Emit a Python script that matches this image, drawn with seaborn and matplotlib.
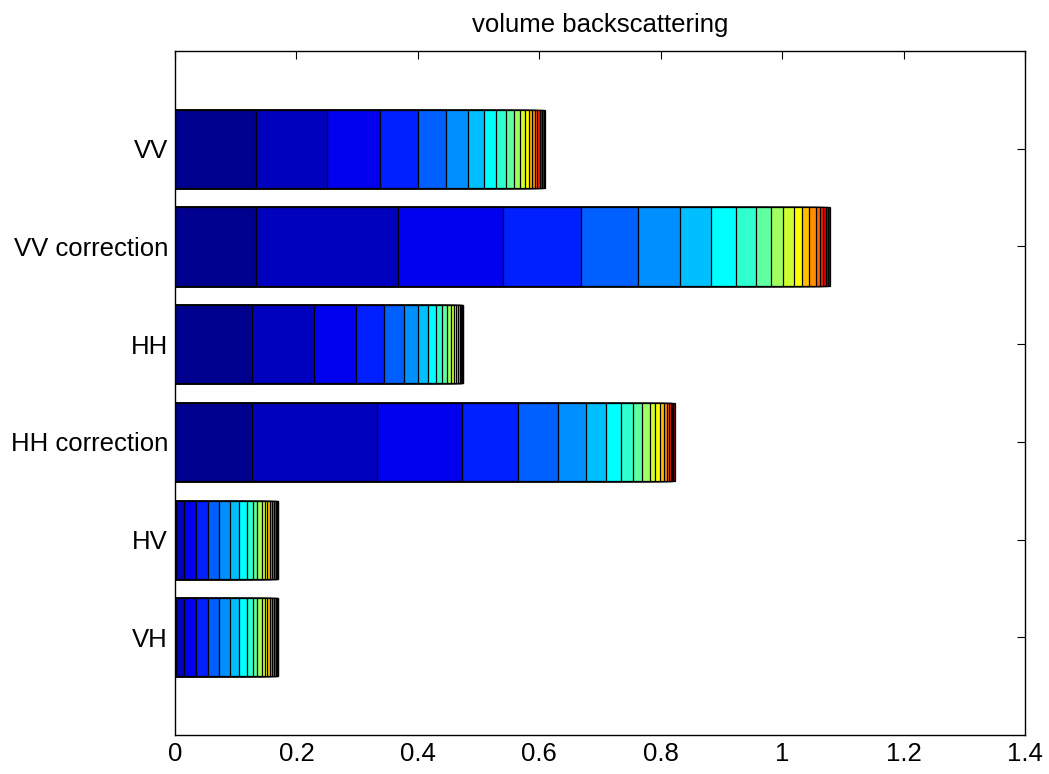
import numpy as np
import pandas as pd
import matplotlib
matplotlib.use('Agg')
import matplotlib.pyplot as plt
import seaborn as sns

# bar labels, top to bottom
labels = ['VV', 'VV correction', 'HH', 'HH correction', 'HV', 'VH']

# width of each stacked term (20 terms per bar)
vv = [0.134, 0.116, 0.088, 0.062, 0.047, 0.035, 0.027, 0.020, 0.016, 0.013,
      0.010, 0.008, 0.007, 0.005, 0.005, 0.004, 0.004, 0.003, 0.003, 0.002]
vv_corr = [0.134, 0.233, 0.174, 0.128, 0.093, 0.070, 0.051, 0.041, 0.033, 0.025,
           0.020, 0.017, 0.013, 0.012, 0.011, 0.007, 0.005, 0.005, 0.004, 0.003]
hh = [0.127, 0.102, 0.069, 0.046, 0.034, 0.023, 0.016, 0.013, 0.010, 0.008,
      0.006, 0.005, 0.004, 0.003, 0.003, 0.002, 0.001, 0.001, 0.001, 0.001]
hh_corr = [0.127, 0.205, 0.141, 0.092, 0.066, 0.046, 0.033, 0.025, 0.019, 0.016,
           0.012, 0.009, 0.008, 0.006, 0.005, 0.004, 0.003, 0.002, 0.002, 0.002]
hv = [0.002, 0.013, 0.020, 0.020, 0.017, 0.019, 0.014, 0.013, 0.010, 0.007,
      0.008, 0.005, 0.004, 0.004, 0.004, 0.003, 0.003, 0.002, 0.001, 0.001]
vh = [0.002, 0.013, 0.020, 0.020, 0.017, 0.019, 0.014, 0.013, 0.010, 0.007,
      0.008, 0.005, 0.004, 0.004, 0.004, 0.003, 0.003, 0.002, 0.001, 0.001]

xticks = [0, 0.2, 0.4, 0.6, 0.8, 1.0, 1.2, 1.4]
xticklabels = ['0', '0.2', '0.4', '0.6', '0.8', '1', '1.2', '1.4']


# matlab style jet(64) colormap
def jet64(m=64):
    n = int(np.ceil(m / 4))
    u = np.concatenate([np.arange(1, n + 1) / n, np.ones(n - 1), np.arange(n, 0, -1) / n])
    g = int(np.ceil(n / 2)) - (m % 4 == 1) + np.arange(1, len(u) + 1)
    r = g + n
    b = g - n
    J = np.zeros((m, 3))
    for col, idx in ((0, r), (1, g), (2, b)):
        ok = (idx >= 1) & (idx <= m)
        J[idx[ok] - 1, col] = u[ok]
    return J


widths = np.array([vv, vv_corr, hh, hh_corr, hv, vh])
nterms = widths.shape[1]
cum = np.cumsum(widths, axis=1)
cmap = jet64()
colors = [cmap[int(k / (nterms - 1) * 63)] for k in range(nterms)]

sns.set_style('white')
plt.rcParams['font.family'] = ['Liberation Sans', 'DejaVu Sans']

fig = plt.figure(figsize=(10.49, 7.74), dpi=100)
ax = fig.add_axes([0.1668, 0.0504, 0.8103, 0.8836])

# draw cumulative bars from the outermost term inwards so they stack
for k in range(nterms - 1, -1, -1):
    df = pd.DataFrame({'label': labels, 'value': cum[:, k]})
    sns.barplot(data=df, x='value', y='label', orient='h', color=colors[k],
                saturation=1, edgecolor='black', linewidth=0.9, width=0.8,
                errorbar=None, ax=ax)

ax.set_xlim(0, 1.4)
ax.set_ylim(6, -1)
ax.set_xticks(xticks)
ax.set_xticklabels(xticklabels)
ax.set_xlabel('')
ax.set_ylabel('')
ax.tick_params(direction='in', top=True, right=True, length=6, width=0.8,
               labelsize=18.5, colors='black', pad=5)
for s in ax.spines.values():
    s.set_color('black')
    s.set_linewidth(1)
    s.set_visible(True)
ax.set_title('volume backscattering', fontsize=18.5, pad=14, color='black')

fig.savefig('out.png', dpi=100)
